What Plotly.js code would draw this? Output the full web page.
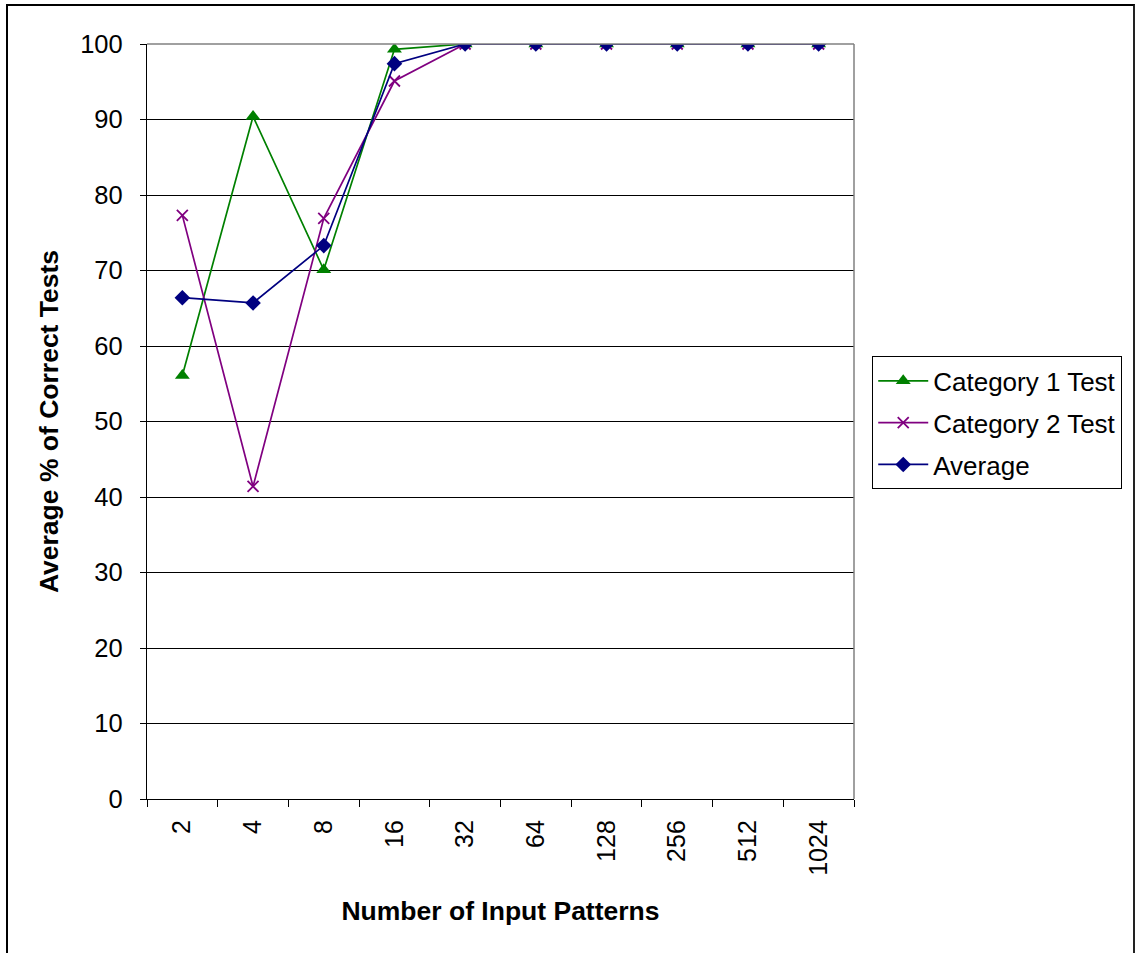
<!DOCTYPE html>
<html>
<head>
<meta charset="utf-8">
<script src="https://cdn.plot.ly/plotly-3.0.1.min.js"></script>
<style>
  html, body { margin: 0; padding: 0; background: #ffffff; }
  #wrap { position: relative; width: 1139px; height: 953px; overflow: hidden; }
  #frame { position: absolute; left: 6px; top: 4px; width: 1129px; height: 960px;
           border-left: 2px solid #000; border-top: 2px solid #000; border-right: 2px solid #222;
           box-sizing: border-box; pointer-events: none; z-index: 2; }
  #chart { position: absolute; left: 0; top: 0; width: 1139px; height: 953px; }
</style>
</head>
<body>
<div id="wrap">
  <div id="chart"></div>
  <div id="frame"></div>
</div>
<script>
// Number of input patterns (category axis)
const patterns = ['2', '4', '8', '16', '32', '64', '128', '256', '512', '1024'];

// Average % of correct tests per series
const category1Test = [56.1, 90.4, 70.1, 99.3, 100, 100, 100, 100, 100, 100];
const category2Test = [77.3, 41.4, 76.9, 95.1, 100, 100, 100, 100, 100, 100];
const averageTest   = [66.4, 65.7, 73.3, 97.4, 100, 100, 100, 100, 100, 100];

const yTicks = [0, 10, 20, 30, 40, 50, 60, 70, 80, 90, 100];

const FONT = 'Arial, "Liberation Sans", sans-serif';

const traces = [
  {
    name: 'Category 1 Test', x: patterns, y: category1Test, type: 'scatter', mode: 'lines+markers',
    legendgroup: 'g1',
    line: { color: '#008000', width: 1.7 },
    marker: { symbol: 'triangle-up', size: 13, color: '#008000' }
  },
  {
    name: 'Category 2 Test', x: patterns, y: category2Test, type: 'scatter', mode: 'lines+markers',
    legendgroup: 'g2',
    line: { color: '#800080', width: 1.7 },
    marker: { symbol: 'x-thin', size: 11, color: '#800080', line: { color: '#800080', width: 1.8 } }
  },
  {
    name: 'Average', x: patterns, y: averageTest, type: 'scatter', mode: 'lines+markers',
    legendgroup: 'g3',
    line: { color: '#000080', width: 1.7 },
    marker: { symbol: 'diamond', size: 12, color: '#000080' }
  }
];

const layout = {
  width: 1139, height: 953,
  margin: { l: 147, r: 285, t: 44, b: 154, pad: 0 },
  paper_bgcolor: '#ffffff', plot_bgcolor: '#ffffff',
  font: { family: FONT, size: 25, color: '#000' },
  showlegend: true,
  legend: {
    x: 1.0255, y: 0.5864, xanchor: 'left', yanchor: 'top',
    bordercolor: '#000', borderwidth: 1.2, bgcolor: '#fff',
    font: { family: FONT, size: 26, color: '#000' },
    itemwidth: 50, tracegroupgap: 5, traceorder: 'grouped'
  },
  xaxis: {
    type: 'category', categoryorder: 'array', categoryarray: patterns,
    range: [-0.5, 9.5], autorange: false,
    tickson: 'boundaries', ticks: 'outside', ticklen: 7, tickcolor: '#000', tickwidth: 1,
    tickangle: -90, tickfont: { family: FONT, size: 25, color: '#000' },
    showline: true, linecolor: '#000', linewidth: 1.2, showgrid: false, zeroline: false,
    ticklabelstandoff: 10,
    title: { text: '<b>Number of Input Patterns</b>', font: { family: FONT, size: 26.5, color: '#000' }, standoff: 26 }
  },
  yaxis: {
    range: [0, 100], autorange: false, tickvals: yTicks, ticktext: yTicks.map(String),
    ticks: 'outside', ticklen: 6, tickcolor: '#000', tickwidth: 1,
    tickfont: { family: FONT, size: 25.5, color: '#000' },
    showline: true, linecolor: '#000', linewidth: 1.2,
    showgrid: true, gridcolor: '#000', gridwidth: 1, zeroline: false,
    ticklabelstandoff: 12,
    title: { text: '<b>Average % of Correct Tests</b>', font: { family: FONT, size: 26.5, color: '#000' }, standoff: 13 }
  },
  shapes: [
    { type: 'line', xref: 'paper', yref: 'paper', x0: 0, x1: 1, y0: 1, y1: 1, line: { color: '#808080', width: 1.5 }, layer: 'above' },
    { type: 'line', xref: 'paper', yref: 'paper', x0: 1, x1: 1, y0: 0, y1: 1, line: { color: '#808080', width: 1.5 }, layer: 'above' }
  ]
};

Plotly.newPlot('chart', traces, layout, { displayModeBar: false, staticPlot: true });
</script>
</body>
</html>
